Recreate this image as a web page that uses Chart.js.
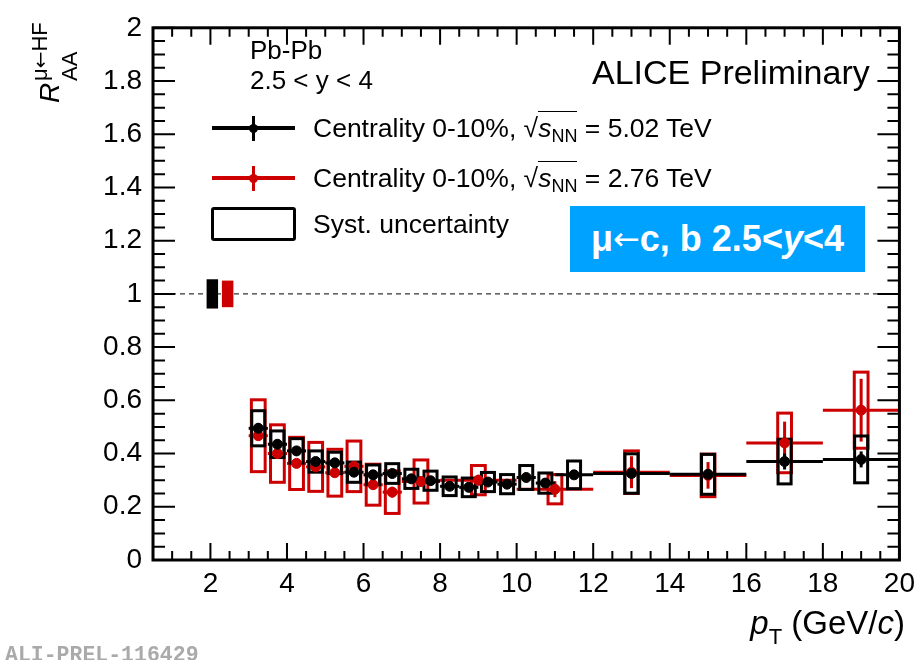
<!DOCTYPE html>
<html>
<head>
<meta charset="utf-8">
<script src="https://cdn.jsdelivr.net/npm/chart.js@4.4.1/dist/chart.umd.min.js"></script>
<style>
  html, body { margin:0; padding:0; background:#fff; }
  #wrap { position:relative; width:922px; height:660px; overflow:hidden; font-family:"Liberation Sans", Arial, sans-serif; color:#000; }
  #c { position:absolute; left:0; top:0; }
  .t { position:absolute; white-space:nowrap; line-height:1; }
  .sq { border-top:1.6px solid #000; padding-top:1px; }
  .sub { font-size:0.68em; vertical-align:-0.3em; }
  .arr { font-family:"DejaVu Sans", sans-serif; }
</style>
</head>
<body>
<div id="wrap">
  <canvas id="c" width="922" height="660"></canvas>

  <!-- y-axis title (rotated) -->
  <div class="t" style="left:28px; top:105px; width:110px; height:55px; transform:rotate(-90deg); transform-origin:left top;">
    <span class="t" style="left:2px; top:8px; font-size:28px; font-style:italic;">R</span>
    <span class="t" style="left:24px; top:31px; font-size:22px;">AA</span>
    <span class="t" style="left:24px; top:1px; font-size:22px;">μ<span class="arr" style="font-size:20px;">←</span>HF</span>
  </div>

  <!-- x-axis title -->
  <div class="t" style="right:17px; top:606px; font-size:33px;"><i>p</i><span style="font-size:22px; vertical-align:-0.45em;">T</span> (GeV/<i>c</i>)</div>

  <div class="t" style="left:250px; top:37px; font-size:26px;">Pb-Pb</div>
  <div class="t" style="left:250px; top:67px; font-size:26px;">2.5 &lt; y &lt; 4</div>

  <div class="t" style="left:592px; top:55px; font-size:34px;">ALICE Preliminary</div>

  <!-- legend symbols -->
  <div style="position:absolute; left:212px; top:126px; width:83px; height:4px; background:#000;"></div>
  <div style="position:absolute; left:252px; top:116px; width:3px; height:25px; background:#000;"></div>
  <div style="position:absolute; left:249px; top:124px; width:9px; height:9px; border-radius:50%; background:#000;"></div>
  <div style="position:absolute; left:212px; top:176px; width:83px; height:4px; background:#cc0000;"></div>
  <div style="position:absolute; left:252px; top:166px; width:3px; height:25px; background:#cc0000;"></div>
  <div style="position:absolute; left:249px; top:174px; width:9px; height:9px; border-radius:50%; background:#cc0000;"></div>
  <div style="position:absolute; left:211px; top:207px; width:79px; height:28px; border:3px solid #000; border-radius:3px;"></div>

  <div class="t" style="left:313px; top:115px; font-size:26.5px;">Centrality 0-10%, √<span class="sq"><i>s</i><span class="sub">NN</span></span> = 5.02 TeV</div>
  <div class="t" style="left:313px; top:165px; font-size:26.5px;">Centrality 0-10%, √<span class="sq"><i>s</i><span class="sub">NN</span></span> = 2.76 TeV</div>
  <div class="t" style="left:313px; top:211px; font-size:26.5px;">Syst. uncertainty</div>

  <!-- blue label -->
  <div class="t" style="left:570px; top:206px; width:295px; height:66px; background:#00a2ff; color:#fff; font-weight:bold; font-size:36px; display:flex; align-items:center; justify-content:center;">μ<span class="arr" style="font-weight:normal; font-size:32px;">←</span>c, b 2.5&lt;<i>y</i>&lt;4</div>

  <div class="t" style="left:5px; top:645px; font-size:21.5px; font-family:'Liberation Mono', monospace; font-weight:bold; color:#aaa;">ALI-PREL-116429</div>
</div>

<script>
// ---------------- data ----------------
// 5.02 TeV (black)
const ptBlack          = [3.25, 3.75, 4.25, 4.75, 5.25, 5.75, 6.25, 6.75, 7.25, 7.75, 8.25, 8.75, 9.25, 9.75, 10.25, 10.75, 11.5, 13, 15, 17, 19];
const ptBlackHalfWidth = [0.25, 0.25, 0.25, 0.25, 0.25, 0.25, 0.25, 0.25, 0.25, 0.25, 0.25, 0.25, 0.25, 0.25, 0.25, 0.25, 0.5, 1, 1, 1, 1];
const raaBlack         = [0.495, 0.435, 0.41, 0.37, 0.365, 0.33, 0.32, 0.325, 0.305, 0.298, 0.277, 0.273, 0.293, 0.285, 0.31, 0.289, 0.32, 0.325, 0.322, 0.37, 0.378];
const statBlack        = [0.02, 0.015, 0.015, 0.012, 0.012, 0.012, 0.012, 0.012, 0.012, 0.012, 0.012, 0.012, 0.012, 0.012, 0.012, 0.012, 0.015, 0.015, 0.02, 0.03, 0.03];
const systBlack        = [0.066, 0.05, 0.046, 0.04, 0.04, 0.038, 0.037, 0.037, 0.036, 0.036, 0.035, 0.035, 0.036, 0.036, 0.045, 0.038, 0.052, 0.074, 0.075, 0.084, 0.088];

// 2.76 TeV (red)
const ptRed            = [3.25, 3.75, 4.25, 4.75, 5.25, 5.75, 6.25, 6.75, 7.5, 9, 11, 13, 15, 17, 19];
const ptRedHalfWidth   = [0.25, 0.25, 0.25, 0.25, 0.25, 0.25, 0.25, 0.25, 0.5, 1, 1, 1, 1, 1, 1];
const raaRed           = [0.467, 0.40, 0.363, 0.35, 0.328, 0.352, 0.283, 0.255, 0.295, 0.30, 0.266, 0.33, 0.318, 0.44, 0.563];
const statRed          = [0.015, 0.015, 0.015, 0.015, 0.015, 0.015, 0.015, 0.02, 0.02, 0.02, 0.03, 0.06, 0.05, 0.08, 0.118];
const systRed          = [0.135, 0.108, 0.098, 0.092, 0.088, 0.095, 0.077, 0.08, 0.081, 0.055, 0.055, 0.08, 0.08, 0.112, 0.143];

// normalisation uncertainties at unity [black, red]
const normUnc   = [0.055, 0.05];
const normPos   = [2.05, 2.45];

const xTickValues = [2, 4, 6, 8, 10, 12, 14, 16, 18, 20];
const yTickValues = [0, 0.2, 0.4, 0.6, 0.8, 1, 1.2, 1.4, 1.6, 1.8, 2];

// ---------------- styles ----------------
const BLACK = '#000000';
const RED = '#cc0000';

function drawSeries(ctx, xs, ys, pts, hw, vals, stat, syst, color, boxHalf) {
  ctx.save();
  ctx.strokeStyle = color;
  for (let i = 0; i < pts.length; i++) {
    const x0 = xs.getPixelForValue(pts[i] - boxHalf), x1 = xs.getPixelForValue(pts[i] + boxHalf);
    const y0 = ys.getPixelForValue(vals[i] + syst[i]), y1 = ys.getPixelForValue(vals[i] - syst[i]);
    ctx.lineWidth = 3;
    ctx.strokeRect(x0, y0, x1 - x0, y1 - y0);
  }
  for (let i = 0; i < pts.length; i++) {
    const yc = ys.getPixelForValue(vals[i]);
    const xa = xs.getPixelForValue(pts[i] - hw[i]), xb = xs.getPixelForValue(pts[i] + hw[i]);
    const xc = xs.getPixelForValue(pts[i]);
    ctx.lineWidth = 3;
    ctx.beginPath(); ctx.moveTo(xa, yc); ctx.lineTo(xb, yc); ctx.stroke();
    ctx.beginPath();
    ctx.moveTo(xc, ys.getPixelForValue(vals[i] + stat[i]));
    ctx.lineTo(xc, ys.getPixelForValue(vals[i] - stat[i]));
    ctx.stroke();
  }
  ctx.restore();
}

const errorPlugin = {
  id: 'errors',
  beforeDatasetsDraw(chart) {
    const ctx = chart.ctx, xs = chart.scales.x, ys = chart.scales.y;
    ctx.save();
    ctx.strokeStyle = '#000'; ctx.lineWidth = 1; ctx.setLineDash([5, 4]);
    ctx.beginPath();
    ctx.moveTo(xs.getPixelForValue(xs.min), ys.getPixelForValue(1));
    ctx.lineTo(xs.getPixelForValue(xs.max), ys.getPixelForValue(1));
    ctx.stroke();
    ctx.restore();
    const cols = [BLACK, RED];
    for (let i = 0; i < normUnc.length; i++) {
      const x0 = xs.getPixelForValue(normPos[i] - 0.15), x1 = xs.getPixelForValue(normPos[i] + 0.15);
      const y0 = ys.getPixelForValue(1 + normUnc[i]), y1 = ys.getPixelForValue(1 - normUnc[i]);
      ctx.fillStyle = cols[i];
      ctx.fillRect(x0, y0, x1 - x0, y1 - y0);
    }
    drawSeries(ctx, xs, ys, ptRed, ptRedHalfWidth, raaRed, statRed, systRed, RED, 0.18);
    drawSeries(ctx, xs, ys, ptBlack, ptBlackHalfWidth, raaBlack, statBlack, systBlack, BLACK, 0.17);
  },
  afterDraw(chart) {
    const ctx = chart.ctx, xs = chart.scales.x, ys = chart.scales.y;
    const a = chart.chartArea;
    ctx.save();
    ctx.strokeStyle = '#000';
    ctx.lineWidth = 3;
    ctx.strokeRect(a.left, a.top, a.right - a.left, a.bottom - a.top);
    ctx.lineWidth = 2;
    ctx.beginPath();
    for (let k = Math.ceil(xs.min / 0.5); k * 0.5 <= xs.max + 1e-9; k++) {
      const v = k * 0.5;
      const major = Math.abs(v / 2 - Math.round(v / 2)) < 1e-6;
      const L = major ? 17 : 9;
      const px = xs.getPixelForValue(v);
      ctx.moveTo(px, a.bottom); ctx.lineTo(px, a.bottom - L);
      ctx.moveTo(px, a.top); ctx.lineTo(px, a.top + L);
    }
    for (let k = Math.ceil(ys.min / 0.05); k * 0.05 <= ys.max + 1e-9; k++) {
      const v = k * 0.05;
      const major = Math.abs(v / 0.2 - Math.round(v / 0.2)) < 1e-6;
      const L = major ? 22 : 12;
      const py = ys.getPixelForValue(v);
      ctx.moveTo(a.left, py); ctx.lineTo(a.left + L, py);
      ctx.moveTo(a.right, py); ctx.lineTo(a.right - L, py);
    }
    ctx.stroke();
    ctx.restore();
  }
};

const tickFont = { family: "'Liberation Sans', Arial, sans-serif", size: 28 };
const fmt = v => String(+Number(v).toFixed(2));

new Chart(document.getElementById('c'), {
  type: 'scatter',
  data: {
    datasets: [
      { label: '5.02 TeV', data: ptBlack.map((x, i) => ({ x, y: raaBlack[i] })), pointRadius: 5, pointBackgroundColor: BLACK, pointBorderColor: BLACK, showLine: false },
      { label: '2.76 TeV', data: ptRed.map((x, i) => ({ x, y: raaRed[i] })), pointRadius: 5, pointBackgroundColor: RED, pointBorderColor: RED, showLine: false }
    ]
  },
  options: {
    responsive: false,
    animation: false,
    devicePixelRatio: 1,
    layout: { padding: { top: 18, right: 17, left: 0, bottom: 0 } },
    plugins: { legend: { display: false }, tooltip: { enabled: false } },
    scales: {
      x: {
        type: 'linear', min: 0.5, max: 20,
        grid: { display: false, drawTicks: false },
        border: { display: false },
        ticks: { font: tickFont, color: '#000', padding: 7, maxRotation: 0, autoSkip: false, callback: fmt },
        afterBuildTicks: s => { s.ticks = xTickValues.map(v => ({ value: v })); },
        afterFit: s => { s.height = 100; }
      },
      y: {
        type: 'linear', min: 0, max: 2,
        grid: { display: false, drawTicks: false },
        border: { display: false },
        ticks: { font: tickFont, color: '#000', padding: 11, autoSkip: false, callback: fmt },
        afterBuildTicks: s => { s.ticks = yTickValues.map(v => ({ value: v })); },
        afterFit: s => { s.height = s.height; s.width = 153; }
      }
    }
  },
  plugins: [errorPlugin]
});
</script>
</body>
</html>
